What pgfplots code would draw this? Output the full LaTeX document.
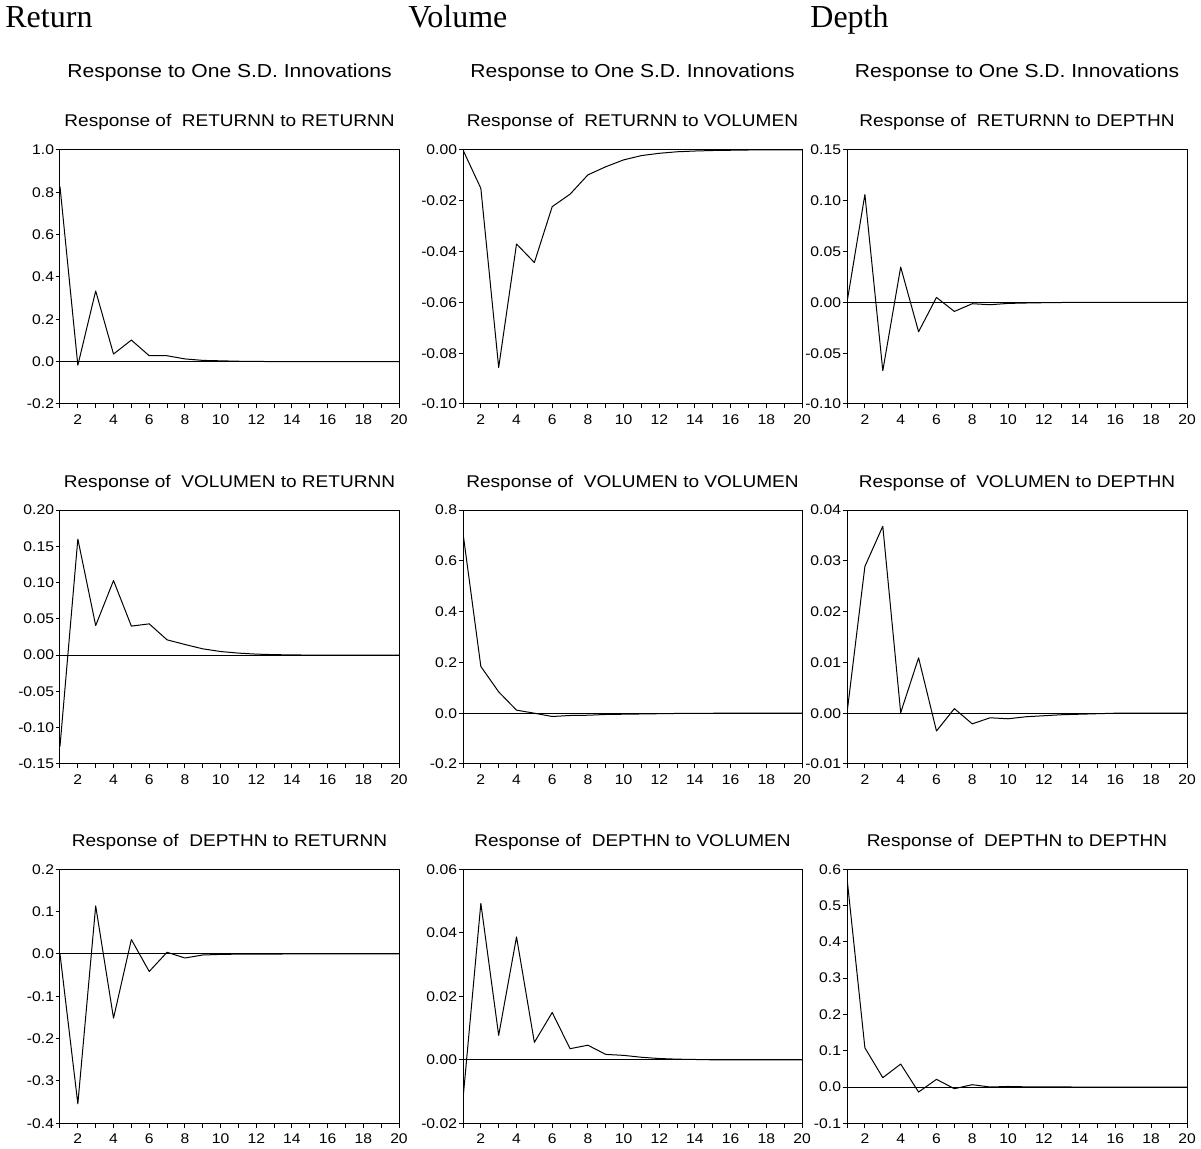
\documentclass[border=0pt]{standalone}
\usepackage{fontspec}
\setmainfont{Liberation Serif}
\newfontfamily\ev[FakeStretch=1.12]{Liberation Sans}
\usepackage{pgfplots}
\pgfplotsset{compat=1.18}
\pgfplotsset{irf/.style={
  scale only axis, width=169.5pt, height=127pt,
  xmin=1, xmax=20,
  xtick pos=left, ytick pos=left,
  tick align=outside,
  major tick length=2.2pt,
  xtick={1,...,20},
  xticklabels={{},2,{},4,{},6,{},8,{},10,{},12,{},14,{},16,{},18,{},20},
  scaled y ticks=false, scaled x ticks=false,
  tick label style={font=\ev\fontsize{7}{8}\selectfont},
  xticklabel style={anchor=base, yshift=-8pt},
  yticklabel style={anchor=east, inner xsep=0.6pt},
  title style={font=\ev\fontsize{8.5}{10}\selectfont, at={(0.5,1)}, anchor=base, yshift=5.5pt},
  cycle list={{black, line width=0.5pt, mark=none}},
  axis line style={line width=0.5pt},
  tick style={black, line width=0.5pt},
  /pgf/number format/assume math mode=true,
}, ln/.style={black, line width=0.5pt, mark=none, line join=round}}
\begin{document}
\begin{tikzpicture}
\useasboundingbox (0,0) rectangle (600.5pt,574pt);
% headers
\node[anchor=base west, inner sep=0pt, font=\fontsize{16}{19}\selectfont] at (2.5pt,560pt) {Return};
\node[anchor=base west, inner sep=0pt, font=\fontsize{16}{19}\selectfont] at (204pt,560pt) {Volume};
\node[anchor=base west, inner sep=0pt, font=\fontsize{16}{19}\selectfont] at (405pt,560pt) {Depth};
\node[anchor=base, inner sep=0pt, font=\ev\fontsize{9.4}{11}\selectfont] at (114.75pt,535pt) {Response to One S.D. Innovations};
\node[anchor=base, inner sep=0pt, font=\ev\fontsize{9.4}{11}\selectfont] at (316.25pt,535pt) {Response to One S.D. Innovations};
\node[anchor=base, inner sep=0pt, font=\ev\fontsize{9.4}{11}\selectfont] at (508.5pt,535pt) {Response to One S.D. Innovations};

% Row 1
\begin{axis}[irf, at={(30pt,372pt)}, anchor=south west,
  title={Response of\ \ RETURNN to RETURNN},
  ymin=-0.2, ymax=1.0, ytick={-0.2,0,0.2,0.4,0.6,0.8,1.0},
  yticklabels={-0.2,0.0,0.2,0.4,0.6,0.8,1.0}]
\addplot[ln] coordinates {(1,0) (20,0)};
\addplot[ln] coordinates {(1,0.827) (2,-0.017) (3,0.334) (4,0.036) (5,0.102) (6,0.028) (7,0.028) (8,0.013) (9,0.006) (10,0.004) (11,0.002) (12,0.001) (13,0.0005) (14,0.0002) (15,0.0001) (16,0) (17,0) (18,0) (19,0) (20,0)};
\end{axis}
\begin{axis}[irf, at={(231.5pt,372pt)}, anchor=south west,
  title={Response of\ \ RETURNN to VOLUMEN},
  ymin=-0.10, ymax=0.0, ytick={-0.10,-0.08,-0.06,-0.04,-0.02,0},
  yticklabels={-0.10,-0.08,-0.06,-0.04,-0.02,0.00}]
\addplot[ln] coordinates {(1,0) (20,0)};
\addplot[ln] coordinates {(1,0) (2,-0.0151) (3,-0.0856) (4,-0.0370) (5,-0.0443) (6,-0.0223) (7,-0.0174) (8,-0.0098) (9,-0.0066) (10,-0.0039) (11,-0.0022) (12,-0.0013) (13,-0.0007) (14,-0.0004) (15,-0.0002) (16,-0.0001) (17,0) (18,0) (19,0) (20,0)};
\end{axis}
\begin{axis}[irf, at={(423.5pt,372pt)}, anchor=south west, width=170pt,
  title={Response of\ \ RETURNN to DEPTHN},
  ymin=-0.10, ymax=0.15, ytick={-0.10,-0.05,0,0.05,0.10,0.15},
  yticklabels={-0.10,-0.05,0.00,0.05,0.10,0.15}]
\addplot[ln] coordinates {(1,0) (20,0)};
\addplot[ln] coordinates {(1,0) (2,0.1062) (3,-0.0672) (4,0.0348) (5,-0.0289) (6,0.0049) (7,-0.0089) (8,-0.0013) (9,-0.0023) (10,-0.0010) (11,-0.0006) (12,-0.0003) (13,-0.0001) (14,0) (15,0) (16,0) (17,0) (18,0) (19,0) (20,0)};
\end{axis}

% Row 2
\begin{axis}[irf, at={(30pt,192pt)}, anchor=south west,
  title={Response of\ \ VOLUMEN to RETURNN},
  ymin=-0.15, ymax=0.20, ytick={-0.15,-0.10,-0.05,0,0.05,0.10,0.15,0.20},
  yticklabels={-0.15,-0.10,-0.05,0.00,0.05,0.10,0.15,0.20}]
\addplot[ln] coordinates {(1,0) (20,0)};
\addplot[ln] coordinates {(1,-0.1257) (2,0.160) (3,0.0408) (4,0.1028) (5,0.0400) (6,0.0431) (7,0.0211) (8,0.0147) (9,0.0087) (10,0.0050) (11,0.0028) (12,0.0014) (13,0.0007) (14,0.0003) (15,0.0001) (16,0) (17,0) (18,0) (19,0) (20,0)};
\end{axis}
\begin{axis}[irf, at={(231.5pt,192pt)}, anchor=south west,
  title={Response of\ \ VOLUMEN to VOLUMEN},
  ymin=-0.2, ymax=0.8, ytick={-0.2,0,0.2,0.4,0.6,0.8},
  yticklabels={-0.2,0.0,0.2,0.4,0.6,0.8}]
\addplot[ln] coordinates {(1,0) (20,0)};
\addplot[ln] coordinates {(1,0.709) (2,0.184) (3,0.084) (4,0.012) (5,0.000) (6,-0.013) (7,-0.009) (8,-0.008) (9,-0.005) (10,-0.004) (11,-0.003) (12,-0.002) (13,-0.001) (14,-0.0005) (15,-0.0002) (16,-0.0001) (17,0) (18,0) (19,0) (20,0)};
\end{axis}
\begin{axis}[irf, at={(423.5pt,192pt)}, anchor=south west, width=170pt,
  title={Response of\ \ VOLUMEN to DEPTHN},
  ymin=-0.01, ymax=0.04, ytick={-0.01,0,0.01,0.02,0.03,0.04},
  yticklabels={-0.01,0.00,0.01,0.02,0.03,0.04}]
\addplot[ln] coordinates {(1,0) (20,0)};
\addplot[ln] coordinates {(1,0) (2,0.0289) (3,0.0368) (4,0.0001) (5,0.0109) (6,-0.0035) (7,0.0009) (8,-0.0021) (9,-0.0009) (10,-0.0011) (11,-0.0007) (12,-0.0005) (13,-0.0003) (14,-0.0002) (15,-0.0001) (16,0) (17,0) (18,0) (19,0) (20,0)};
\end{axis}

% Row 3
\begin{axis}[irf, at={(30pt,12.35pt)}, anchor=south west,
  title={Response of\ \ DEPTHN to RETURNN},
  ymin=-0.4, ymax=0.2, ytick={-0.4,-0.3,-0.2,-0.1,0,0.1,0.2},
  yticklabels={-0.4,-0.3,-0.2,-0.1,0.0,0.1,0.2}]
\addplot[ln] coordinates {(1,0) (20,0)};
\addplot[ln] coordinates {(1,0) (2,-0.354) (3,0.1135) (4,-0.1516) (5,0.0341) (6,-0.0413) (7,0.0040) (8,-0.0095) (9,-0.0024) (10,-0.0010) (11,-0.0004) (12,-0.0002) (13,-0.0001) (14,0) (15,0) (16,0) (17,0) (18,0) (19,0) (20,0)};
\end{axis}
\begin{axis}[irf, at={(231.5pt,12.35pt)}, anchor=south west,
  title={Response of\ \ DEPTHN to VOLUMEN},
  ymin=-0.02, ymax=0.06, ytick={-0.02,0,0.02,0.04,0.06},
  yticklabels={-0.02,0.00,0.02,0.04,0.06}]
\addplot[ln] coordinates {(1,0) (20,0)};
\addplot[ln] coordinates {(1,-0.0124) (2,0.0493) (3,0.0077) (4,0.0387) (5,0.0055) (6,0.0149) (7,0.0035) (8,0.0046) (9,0.0017) (10,0.0014) (11,0.0008) (12,0.0004) (13,0.0002) (14,0.0001) (15,0) (16,0) (17,0) (18,0) (19,0) (20,0)};
\end{axis}
\begin{axis}[irf, at={(423.5pt,12.35pt)}, anchor=south west, width=170pt,
  title={Response of\ \ DEPTHN to DEPTHN},
  ymin=-0.1, ymax=0.6, ytick={-0.1,0,0.1,0.2,0.3,0.4,0.5,0.6},
  yticklabels={-0.1,0.0,0.1,0.2,0.3,0.4,0.5,0.6}]
\addplot[ln] coordinates {(1,0) (20,0)};
\addplot[ln] coordinates {(1,0.576) (2,0.108) (3,0.0257) (4,0.0633) (5,-0.0138) (6,0.0211) (7,-0.0046) (8,0.0064) (9,0.0000) (10,0.0015) (11,0.0005) (12,0.0002) (13,0.0001) (14,0) (15,0) (16,0) (17,0) (18,0) (19,0) (20,0)};
\end{axis}
\end{tikzpicture}
\end{document}
